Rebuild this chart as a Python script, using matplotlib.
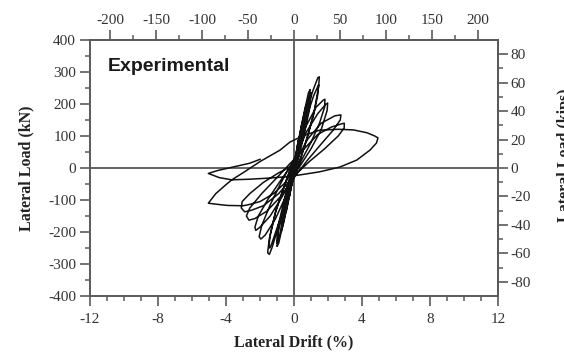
import matplotlib
matplotlib.use("Agg")
import matplotlib.pyplot as plt
from matplotlib.ticker import MultipleLocator

plt.rcParams['axes.unicode_minus'] = False

# drift (%) and lateral load (kN) history of the test, cycle by cycle
cyc0_drift = [0.0, 0.1, 0.25, 0.28, 0.2, 0.05, -0.1, -0.25, -0.28, -0.2, -0.05, 0.0]
cyc0_load = [0, 40, 85, 90, 60, 10, -35, -85, -90, -60, -10, 0]

cyc1_drift = [0.0, 0.2, 0.45, 0.5, 0.4, 0.2, 0.0, -0.2, -0.45, -0.5, -0.4, -0.2, 0.0]
cyc1_load = [0, 70, 135, 140, 95, 40, -10, -70, -135, -140, -95, -40, 5]

cyc1b_drift = [0.1, 0.4, 0.7, 0.75, 0.65, 0.35, 0.05, -0.25, -0.6, -0.75, -0.7, -0.4, -0.05]
cyc1b_load = [30, 120, 195, 200, 150, 70, -5, -80, -170, -200, -160, -80, 5]

cyc2_drift = [0.2, 0.5, 0.85, 0.95, 0.85, 0.5, 0.15, -0.1, -0.5, -0.9, -1.0, -0.9, -0.5, -0.15, 0.05]
cyc2_load = [60, 150, 235, 245, 190, 100, 20, -30, -140, -235, -245, -195, -100, -20, 15]

cyc2b_drift = [0.25, 0.6, 0.9, 1.0, 0.9, 0.55, 0.2, -0.15, -0.55, -0.9, -1.02, -0.95, -0.55, -0.2, 0.0]
cyc2b_load = [70, 160, 225, 235, 180, 95, 15, -40, -140, -225, -235, -185, -95, -15, 15]

cyc3_drift = [0.3, 0.7, 1.1, 1.4, 1.49, 1.45, 1.2, 0.8, 0.4, 0.0, -0.4, -0.9, -1.3, -1.45, -1.55, -1.45, -1.1, -0.6, -0.2]
cyc3_load = [80, 170, 240, 282, 285, 255, 180, 100, 30, -30, -100, -180, -250, -270, -265, -220, -140, -60, 0]

cyc3b_drift = [0.35, 0.75, 1.15, 1.4, 1.45, 1.4, 1.15, 0.75, 0.35, -0.05, -0.45, -0.95, -1.3, -1.42, -1.48, -1.38, -1.05, -0.55, -0.15]
cyc3b_load = [75, 160, 225, 255, 260, 230, 165, 90, 25, -35, -105, -180, -235, -250, -245, -205, -130, -55, 5]

cyc4_drift = [0.2, 0.7, 1.3, 1.72, 1.82, 1.8, 1.5, 1.0, 0.4, 0.0, -0.5, -1.1, -1.7, -1.95, -2.05, -1.9, -1.4, -0.8, -0.3]
cyc4_load = [50, 130, 190, 212, 215, 190, 140, 80, 20, -25, -90, -160, -210, -222, -215, -180, -115, -50, 0]

cyc5_drift = [0.1, 0.7, 1.4, 1.85, 1.98, 1.95, 1.6, 1.0, 0.4, -0.1, -0.7, -1.4, -2.0, -2.25, -2.3, -2.1, -1.5, -0.8, -0.2]
cyc5_load = [30, 110, 170, 198, 203, 180, 120, 60, 10, -30, -90, -150, -185, -195, -185, -150, -95, -40, 5]

cyc6_drift = [0.0, 0.8, 1.6, 2.4, 2.76, 2.72, 2.3, 1.6, 0.8, 0.0, -0.8, -1.6, -2.3, -2.65, -2.8, -2.6, -1.9, -1.0, -0.3]
cyc6_load = [10, 90, 140, 163, 166, 150, 118, 75, 25, -30, -90, -135, -158, -163, -150, -125, -80, -30, 10]

cyc7_drift = [0.6, 1.4, 2.2, 2.8, 2.96, 2.95, 2.6, 1.8, 0.9, 0.0, -0.9, -1.8, -2.5, -2.9, -3.1, -3.05, -2.6, -1.8, -0.9, 0.0]
cyc7_load = [60, 105, 128, 138, 140, 125, 100, 60, 20, -25, -80, -118, -132, -137, -125, -105, -80, -45, -15, 10]

# large cycle to 5 % drift and final reloading branch
cyc8_drift = [-0.5, -1.2, -2.0, -2.7, -3.0, -3.9, -4.6, -5.04, -4.6, -4.0, -3.66,
              -3.0, -2.0, -0.82, -0.24, 0.5, 1.5, 2.6, 3.5, 4.3, 4.75, 4.94,
              4.85, 4.47, 3.7, 2.7, 1.5, 0.3, -0.6, -1.6, -2.6, -3.66,
              -4.4, -5.04, -4.5, -3.6, -2.6, -2.0]
cyc8_load = [-45, -80, -105, -115, -118, -117, -113, -110, -80, -52, -37,
             -15, 20, 56, 81, 100, 118, 121, 119, 110, 100, 94,
             78, 56, 25, 3, -12, -22, -28, -32, -35, -37,
             -30, -17, -8, 3, 15, 27]

drift = (cyc0_drift + cyc1_drift + cyc1b_drift + cyc2_drift + cyc2b_drift
         + cyc3_drift + cyc3b_drift + cyc4_drift + cyc5_drift
         + cyc6_drift + cyc7_drift + cyc8_drift)
load = (cyc0_load + cyc1_load + cyc1b_load + cyc2_load + cyc2b_load
        + cyc3_load + cyc3b_load + cyc4_load + cyc5_load
        + cyc6_load + cyc7_load + cyc8_load)

KN_PER_KIP = 4.448
MM_PER_PCT = 222.0 / 12.0

axc = '#5a5a5a'
txc = '#333333'

fig = plt.figure(figsize=(5.64, 3.54), dpi=100)
ax = fig.add_axes([90 / 564, 58 / 354, 408 / 564, 256 / 354])

ax.axhline(0, color='#555555', lw=1.3, zorder=1)
ax.axvline(0, color='#555555', lw=1.3, zorder=1)
ax.plot(drift, load, color='#111111', lw=1.1, zorder=2)

ax.set_xlim(-12, 12)
ax.set_ylim(-400, 400)
ax.xaxis.set_major_locator(MultipleLocator(4))
ax.xaxis.set_minor_locator(MultipleLocator(1))
ax.yaxis.set_major_locator(MultipleLocator(100))
ax.yaxis.set_minor_locator(MultipleLocator(50))

serif = 'Liberation Serif'
for s in ax.spines.values():
    s.set_color(axc)
    s.set_linewidth(1.4)
ax.tick_params(which='major', direction='out', length=7, width=1.2, color=axc,
               labelsize=11, labelcolor=txc, pad=3)
ax.tick_params(which='minor', direction='out', length=3.5, width=1.1, color=axc)
for lab in ax.get_xticklabels() + ax.get_yticklabels():
    lab.set_family(serif)
ax.tick_params(axis='x', pad=5)

# displacement (mm) on top, load (kips) on right
top = ax.secondary_xaxis('top', functions=(lambda d: d * MM_PER_PCT,
                                            lambda m: m / MM_PER_PCT))
top.set_xticks([-200, -150, -100, -50, 0, 50, 100, 150, 200])
top.xaxis.set_minor_locator(MultipleLocator(25))
right = ax.secondary_yaxis('right', functions=(lambda f: f / KN_PER_KIP,
                                                lambda k: k * KN_PER_KIP))
right.set_yticks([-80, -60, -40, -20, 0, 20, 40, 60, 80])
right.yaxis.set_minor_locator(MultipleLocator(10))
for sec in (top, right):
    for s in sec.spines.values():
        s.set_color(axc)
        s.set_linewidth(1.4)
    sec.tick_params(which='major', direction='out', length=7, width=1.2, color=axc,
                    labelsize=11, labelcolor=txc, pad=2)
    sec.tick_params(which='minor', direction='out', length=3.5, width=1.1, color=axc)
    for lab in sec.get_xticklabels() + sec.get_yticklabels():
        lab.set_family(serif)

ax.set_xlabel('Lateral Drift (%)', family=serif, fontweight='bold', fontsize=11.5,
              color='#222222', labelpad=6)
ax.set_ylabel('Lateral Load (kN)', family=serif, fontweight='bold', fontsize=11.5,
              color='#222222', labelpad=10)
fig.text(557 / 564, 1 - 155 / 354, 'Lateral Load (kips)', rotation=90, family=serif,
         fontweight='bold', fontsize=11.5, color='#222222', ha='left', va='center')

ax.text(0.044, 0.93, 'Experimental', transform=ax.transAxes, family='Liberation Sans',
        fontweight='bold', fontsize=14, color='#1a1a1a', ha='left', va='top')

fig.savefig('out.png', dpi=100)
